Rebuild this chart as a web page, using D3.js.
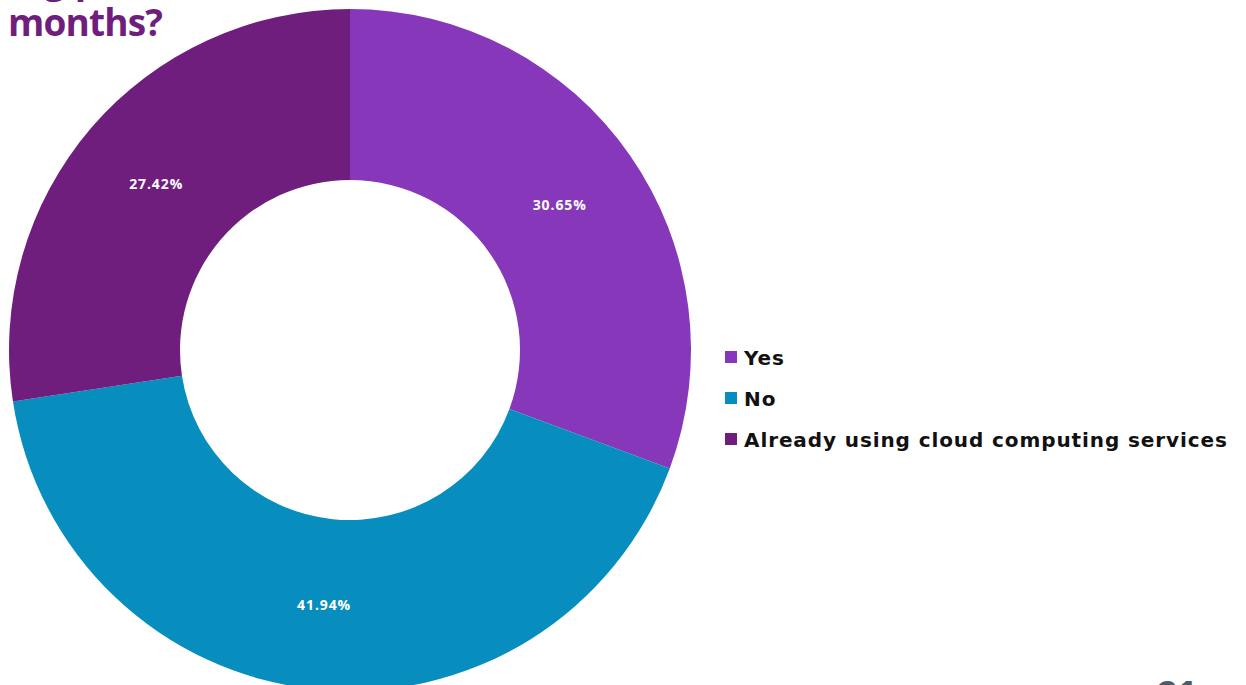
<!DOCTYPE html>
<html>
<head>
<meta charset="utf-8">
<script src="https://cdn.jsdelivr.net/npm/d3@7"></script>
<style>
  html, body { margin: 0; padding: 0; background: #ffffff; }
  svg { display: block; font-family: "Open Sans", "Lato", sans-serif; }
</style>
</head>
<body>
<svg id="chart" width="1246" height="685"></svg>
<script>
// Survey answers and their shares (%)
const categories = ["Yes", "No", "Already using cloud computing services"];
const shares = [30.65, 41.94, 27.42];
const colors = ["#8737B9", "#078EBE", "#6F1E7D"];
const titleLines = ["Big plans in the next 12", "months?"];
const pageNumber = "21";

const svg = d3.select("#chart");

const cx = 350, cy = 350, outerR = 341, innerR = 170;

// Spread a text's letters so it spans the given width
function fitWidth(node, target) {
  const n = node.textContent.length;
  const w = node.getComputedTextLength();
  const ls = (target - w) / Math.max(1, n - 1);
  d3.select(node).attr("letter-spacing", ls.toFixed(2));
  return ls;
}

const color = d3.scaleOrdinal().domain(categories).range(colors);

const pie = d3.pie().sort(null).value(d => d.value);
const data = categories.map((c, i) => ({ name: c, value: shares[i] }));
const arcs = pie(data);

const arc = d3.arc().innerRadius(innerR).outerRadius(outerR);
const midR = (innerR + outerR) / 2;
const labelArc = d3.arc().innerRadius(midR).outerRadius(midR);

const g = svg.append("g").attr("transform", `translate(${cx},${cy})`);

g.selectAll("path.slice")
  .data(arcs)
  .join("path")
  .attr("class", "slice")
  .attr("d", arc)
  .attr("fill", d => color(d.data.name));

g.selectAll("text.val")
  .data(arcs)
  .join("text")
  .attr("class", "val")
  .attr("transform", d => `translate(${labelArc.centroid(d)})`)
  .attr("text-anchor", "middle")
  .attr("dominant-baseline", "central")
  .attr("fill", "#ffffff")
  .attr("font-size", 14)
  .attr("font-weight", 700)
  .attr("letter-spacing", 0.9)
  .text(d => d.data.value.toFixed(2) + "%");

// Title (upper lines run off the top edge)
const title = svg.append("g");
title.selectAll("text")
  .data(titleLines)
  .join("text")
  .attr("x", 8)
  .attr("y", (d, i) => 36 - (titleLines.length - 1 - i) * 43)
  .attr("fill", "#6F1E7D")
  .attr("font-size", 37)
  .attr("font-weight", 700)
  .text(d => d);
fitWidth(title.selectAll("text").nodes()[titleLines.length - 1], 155);

// Legend
const legend = svg.append("g").attr("transform", "translate(725,351)");
const item = legend.selectAll("g")
  .data(categories)
  .join("g")
  .attr("transform", (d, i) => `translate(0,${i * 41})`);
item.append("rect")
  .attr("width", 12).attr("height", 12)
  .attr("fill", d => color(d));
const legendText = item.append("text")
  .attr("x", 19).attr("y", 14)
  .style("font-family", "'DejaVu Sans', sans-serif")
  .attr("font-size", 20)
  .attr("font-weight", 700)
  .attr("fill", "#111111")
  .text(d => d);
const ls = fitWidth(legendText.nodes()[2], 483);
legendText.attr("letter-spacing", ls.toFixed(2));

// Page number
svg.append("text")
  .attr("x", 1177).attr("y", 704)
  .attr("text-anchor", "middle")
  .attr("font-size", 32)
  .attr("font-weight", 800)
  .attr("fill", "#4F5B66")
  .text(pageNumber);
</script>
</body>
</html>
